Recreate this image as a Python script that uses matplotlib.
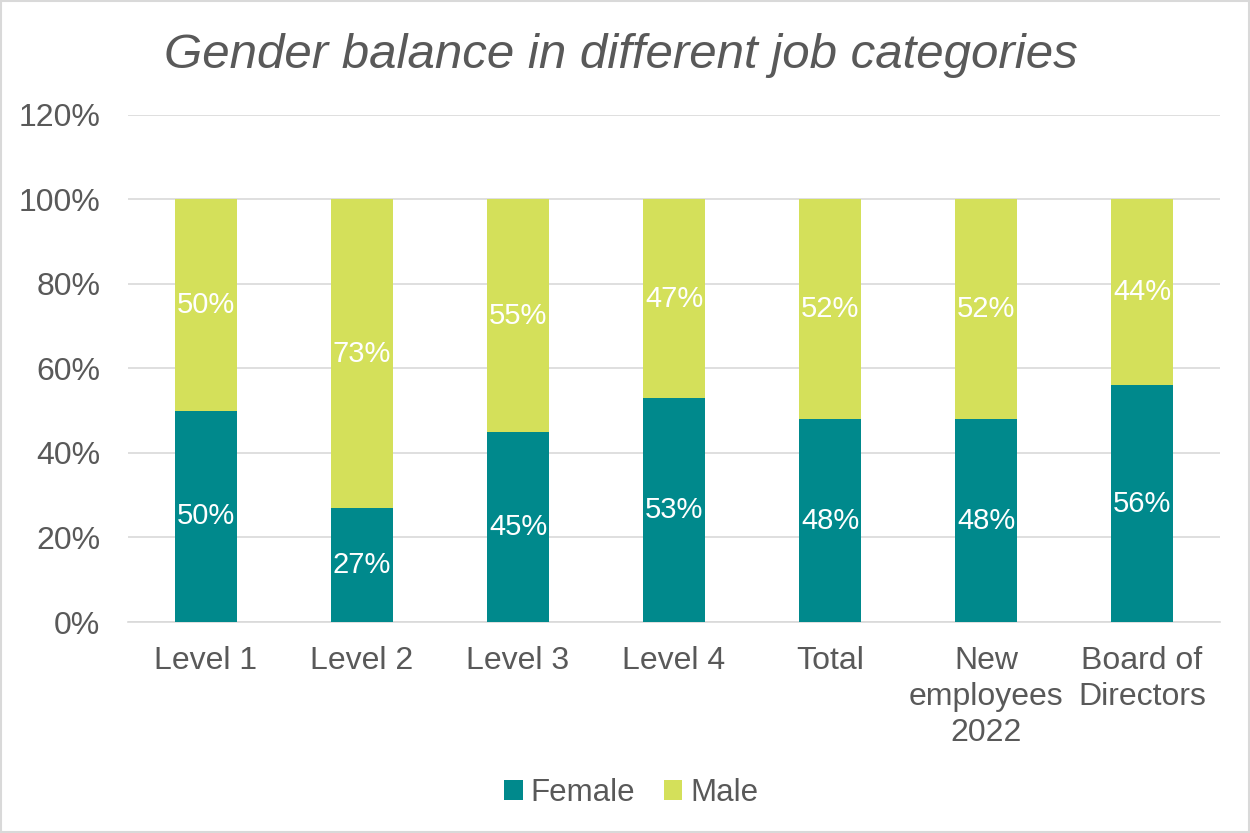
import matplotlib
matplotlib.use("Agg")
import matplotlib.pyplot as plt
from matplotlib.patches import Rectangle

categories = ["Level 1", "Level 2", "Level 3", "Level 4", "Total",
              "New\nemployees\n2022", "Board of\nDirectors"]
female = [50, 27, 45, 53, 48, 48, 56]
male = [50, 73, 55, 47, 52, 52, 44]
yticks = [0, 20, 40, 60, 80, 100, 120]

FEMALE_C = "#00898C"
MALE_C = "#D4E05A"
GREY = "#595959"
GRID = "#D9D9D9"

plt.rcParams["font.family"] = ["Liberation Sans", "DejaVu Sans"]

fig = plt.figure(figsize=(12.5, 8.33), dpi=100)
ax = fig.add_axes([0.1024, 0.2533, 0.8736, 0.6087])

x = range(len(categories))
b1 = ax.bar(x, female, width=0.4, color=FEMALE_C, label="Female", zorder=3)
b2 = ax.bar(x, male, width=0.4, bottom=female, color=MALE_C, label="Male", zorder=3)
ax.bar_label(b1, labels=[f"{v}%" for v in female], label_type="center",
             color="white", fontsize=21)
ax.bar_label(b2, labels=[f"{v}%" for v in male], label_type="center",
             color="white", fontsize=21)

ax.set_xlim(-0.5, len(categories) - 0.5)
ax.set_ylim(0, 120)
ax.set_yticks(yticks)
ax.set_yticklabels([f"{v}%" for v in yticks])
ax.set_xticks(list(x))
ax.set_xticklabels(categories, linespacing=1.28)
ax.tick_params(axis="both", length=0, labelsize=23, colors=GREY)
ax.tick_params(axis="x", pad=17)
ax.tick_params(axis="y", pad=20)
ax.yaxis.grid(True, color=GRID, lw=1.2, zorder=0)
for s in ("top", "right", "left"):
    ax.spines[s].set_visible(False)
ax.spines["bottom"].set_color(GRID)
ax.spines["bottom"].set_linewidth(1.2)

fig.suptitle("Gender balance in different job categories", x=0.497, y=0.96,
             fontsize=35.5, style="italic", color=GREY)

fig.legend(loc="center", bbox_to_anchor=(0.505, 0.048), ncol=2, frameon=False,
           fontsize=22.5, labelcolor=GREY, handlelength=0.6, handleheight=0.6,
           handletextpad=0.25, columnspacing=0.9)

fig.patches.append(Rectangle((0.001, 0.001), 0.998, 0.998, transform=fig.transFigure,
                             fill=False, edgecolor=GRID, lw=1.5))

fig.savefig("out.png", dpi=100)
